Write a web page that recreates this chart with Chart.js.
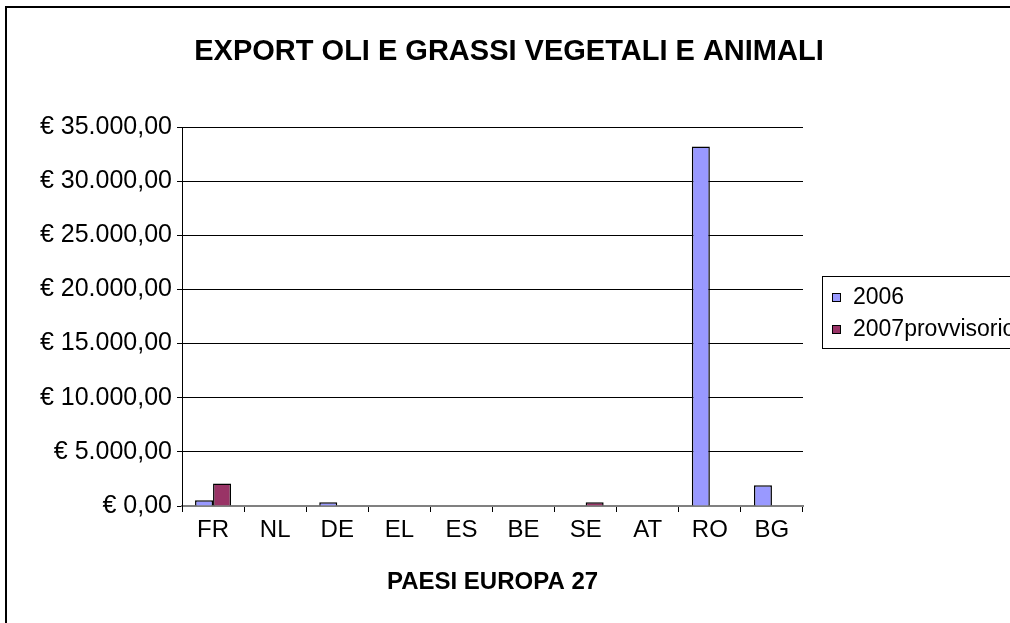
<!DOCTYPE html>
<html>
<head>
<meta charset="utf-8">
<script src="https://cdn.jsdelivr.net/npm/chart.js@4/dist/chart.umd.min.js"></script>
<style>
  html, body { margin: 0; padding: 0; background: #fff; overflow: hidden; }
  #wrap { width: 1010px; height: 623px; }
</style>
</head>
<body>
<div id="wrap"><canvas id="exportChart" width="1010" height="623"></canvas></div>
<script>
// Data
const countries = ["FR", "NL", "DE", "EL", "ES", "BE", "SE", "AT", "RO", "BG"];
const export2006 = [530, 0, 340, 0, 0, 0, 0, 0, 33200, 1910];
const export2007 = [2070, 0, 0, 0, 0, 0, 340, 0, 0, 0];
const seriesNames = ["2006", "2007provvisorio"];
const seriesColors = ["#9999FF", "#993366"];
const chartTitle = "EXPORT OLI E GRASSI VEGETALI E ANIMALI";

const FONT = "'Liberation Sans', Arial, sans-serif";

function euro(v) {
  // € 35.000,00 style
  const parts = Math.abs(v).toFixed(2).split(".");
  const int = parts[0].replace(/\B(?=(\d{3})+(?!\d))/g, ".");
  return "€ " + int + "," + parts[1];
}

// Outer frame, title and legend box (legend runs past the window edge like the original)
const framePlugin = {
  id: "frame",
  beforeDraw(chart) {
    const ctx = chart.ctx;
    ctx.save();
    ctx.fillStyle = "#fff";
    ctx.fillRect(0, 0, chart.width, chart.height);
    ctx.strokeStyle = "#000";
    ctx.lineWidth = 2;
    ctx.strokeRect(6, 7, 1100, 700);
    ctx.fillStyle = "#000";
    ctx.font = "bold 29px " + FONT;
    ctx.textAlign = "center";
    ctx.textBaseline = "middle";
    ctx.fillText(chartTitle, 509, 52);
    ctx.restore();
  },
  afterDraw(chart) {
    const ctx = chart.ctx;
    ctx.save();
    ctx.strokeStyle = "#000";
    ctx.lineWidth = 1;
    ctx.strokeRect(822.5, 276.5, 300, 72);
    ctx.font = "23px " + FONT;
    ctx.textBaseline = "middle";
    chart.data.datasets.forEach((ds, i) => {
      const y = 297 + i * 32;
      ctx.fillStyle = ds.backgroundColor;
      ctx.fillRect(832, y - 4, 8, 8);
      ctx.strokeStyle = "#000";
      ctx.strokeRect(832.5, y - 3.5, 8, 8);
      ctx.fillStyle = "#000";
      ctx.fillText(ds.label, 853, y + 1);
    });
    ctx.restore();
  }
};

const ctx = document.getElementById("exportChart").getContext("2d");
new Chart(ctx, {
  type: "bar",
  data: {
    labels: countries,
    datasets: [
      { label: seriesNames[0], data: export2006, backgroundColor: seriesColors[0], borderColor: "#000", borderWidth: 1.5 },
      { label: seriesNames[1], data: export2007, backgroundColor: seriesColors[1], borderColor: "#000", borderWidth: 1.5 }
    ]
  },
  options: {
    responsive: false,
    animation: false,
    categoryPercentage: 0.58,
    barPercentage: 1,
    layout: { padding: { left: 0, right: 207, top: 127, bottom: 22 } },
    plugins: {
      legend: { display: false },
      tooltip: { enabled: false },
      title: { display: false }
    },
    scales: {
      x: {
        afterFit(scale) { scale.height = 95; },
        grid: { drawOnChartArea: false, drawTicks: true, tickLength: 6, color: "#000" },
        border: { color: "#808080", width: 2 },
        ticks: { color: "#000", padding: 4, font: { family: FONT, size: 24 } },
        title: {
          display: true,
          text: "PAESI EUROPA 27",
          color: "#000",
          font: { family: FONT, size: 24, weight: "bold" },
          padding: { top: 20, bottom: 4 }
        }
      },
      y: {
        min: 0,
        max: 35000,
        afterFit(scale) { scale.width = 182; },
        grid: { color: "#000", lineWidth: 1, tickLength: 5 },
        border: { color: "#000", width: 1 },
        ticks: {
          stepSize: 5000,
          color: "#000",
          padding: 5,
          font: { family: FONT, size: 25 },
          callback: (v) => euro(v)
        }
      }
    }
  },
  plugins: [framePlugin]
});
</script>
</body>
</html>
